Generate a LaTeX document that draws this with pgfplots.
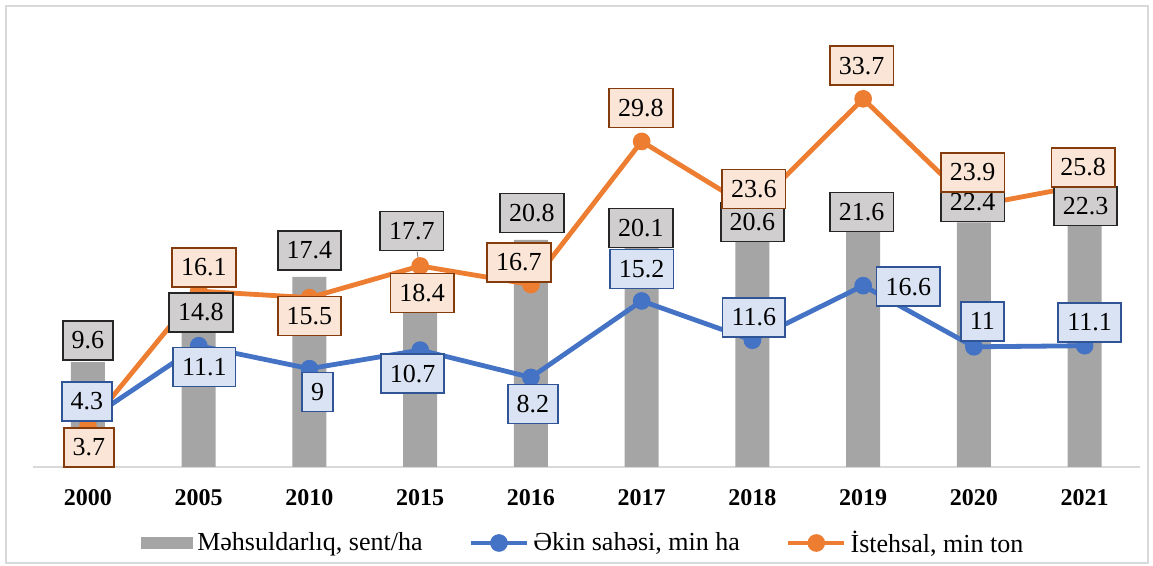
\documentclass[border=0pt]{standalone}
\usepackage{fontspec}
\setmainfont{Liberation Serif}
\usepackage{pgfplots}
\usepackage{pgfplotstable}
\pgfplotsset{compat=1.18}
\definecolor{bargray}{HTML}{A5A5A5}
\definecolor{lblue}{HTML}{4472C4}
\definecolor{lorange}{HTML}{ED7D31}
\definecolor{gfill}{HTML}{D0CECE}
\definecolor{gdraw}{HTML}{262626}
\definecolor{ofill}{HTML}{FBE5D6}
\definecolor{odraw}{HTML}{843C0C}
\definecolor{bfill}{HTML}{DAE3F3}
\definecolor{bdraw}{HTML}{2F5597}
\definecolor{axgray}{HTML}{D9D9D9}

\pgfplotstableread{
x y dx dy
0 9.6 0 11
1 14.8 1.1 -3.4
2 17.4 0 13.2
3 17.7 -4.2 21.3
4 20.8 0.5 13.4
5 20.1 -0.4 9.7
6 20.6 0 10
7 21.6 -0.7 9.5
8 22.4 -0.6 10.1
9 22.3 0.5 8.7
}\bartab

\pgfplotstableread{
x y dx dy
0 4.3 -0.5 9.3
1 11.1 2.8 -10.6
2 9 4.1 -11.7
3 10.7 -3.8 -11.9
4 8.2 1 -13.3
5 15.2 0 16
6 11.6 0.7 11.4
7 16.6 22.6 -0.5
8 11 4.2 12.7
9 11.1 2.5 11.6
}\bluetab

\pgfplotstableread{
x y dx dy
0 3.7 0.5 -10.4
1 16.1 2.6 11.8
2 15.5 0 -9.2
3 18.4 1 -13.5
4 16.7 -6 11
5 29.8 -0.4 16.7
6 23.6 0.7 10.1
7 33.7 -0.7 16.6
8 23.9 -0.6 16.7
9 25.8 -0.7 8.8
}\orangetab

\tikzset{
  lab/.style={font=\fontsize{13}{15}\selectfont, text=black, inner xsep=4.5pt, inner ysep=0pt,
    minimum height=19.5pt, line width=0.9pt, anchor=center},
}
\pgfplotsset{
  labplot/.style n args={2}{forget plot, draw=none, mark=none, point meta=y,
    visualization depends on={\thisrow{dx}\as\dx},
    visualization depends on={\thisrow{dy}\as\dy},
    nodes near coords,
    nodes near coords style={lab, fill=#1, draw=#2, xshift=\dx pt, yshift=\dy pt}},
  lineleg/.style={legend image code/.code={\draw[mark repeat=2,mark phase=2,##1] plot coordinates {(0pt,0pt) (14pt,0pt) (28pt,0pt)};}},
  barleg/.style={legend image code/.code={\fill[bargray] (0pt,-3pt) rectangle (26pt,3pt);}},
}

\begin{document}
\begin{tikzpicture}
\useasboundingbox (0,0) rectangle (576.5pt,283pt);
\draw[axgray, line width=1pt] (2.75pt,1.25pt) rectangle (574pt,280.2pt);
\begin{axis}[
  at={(16.3pt,49.5pt)}, anchor=south west,
  scale only axis, width=553.7pt, height=218.5pt,
  xmin=-0.5, xmax=9.5, ymin=0, ymax=40,
  axis x line*=bottom, axis y line=none,
  x axis line style={draw=axgray, line width=1pt},
  xtick={0,...,9},
  xticklabels={2000,2005,2010,2015,2016,2017,2018,2019,2020,2021},
  xtick style={draw=none},
  ytick=\empty,
  xticklabel style={font=\fontsize{12}{14}\selectfont\bfseries, yshift=-7.5pt},
  /pgf/number format/assume math mode=true,
  clip=false,
  legend columns=3,
  legend cell align=left,
  legend style={at={(axis description cs:0.5,0)}, anchor=center, yshift=-38pt, xshift=-1pt,
    draw=none, fill=none, font=\fontsize{13}{15}\selectfont,
    /tikz/every even column/.append style={column sep=21pt}},
]
\addplot[ybar, bar width=17pt, fill=bargray, draw=none, barleg]
  table[x=x,y=y]{\bartab};
\addlegendentry{Məhsuldarlıq, sent/ha}
\addplot[lblue, line width=2.4pt, mark=*, mark size=3.2pt, lineleg]
  table[x=x,y=y]{\bluetab};
\addlegendentry{Əkin sahəsi, min ha}
\addplot[lorange, line width=2.4pt, mark=*, mark size=3.2pt, lineleg]
  table[x=x,y=y]{\orangetab};
\addlegendentry{İstehsal, min ton}
\draw[bargray!80!black, line width=0.5pt] (axis cs:3,17.7) -- ++(-1.5pt,11pt);
\addplot[labplot={gfill}{gdraw}] table[x=x,y=y]{\bartab};
\addplot[labplot={bfill}{bdraw}] table[x=x,y=y]{\bluetab};
\addplot[labplot={ofill}{odraw}] table[x=x,y=y]{\orangetab};
\end{axis}
\end{tikzpicture}
\end{document}
